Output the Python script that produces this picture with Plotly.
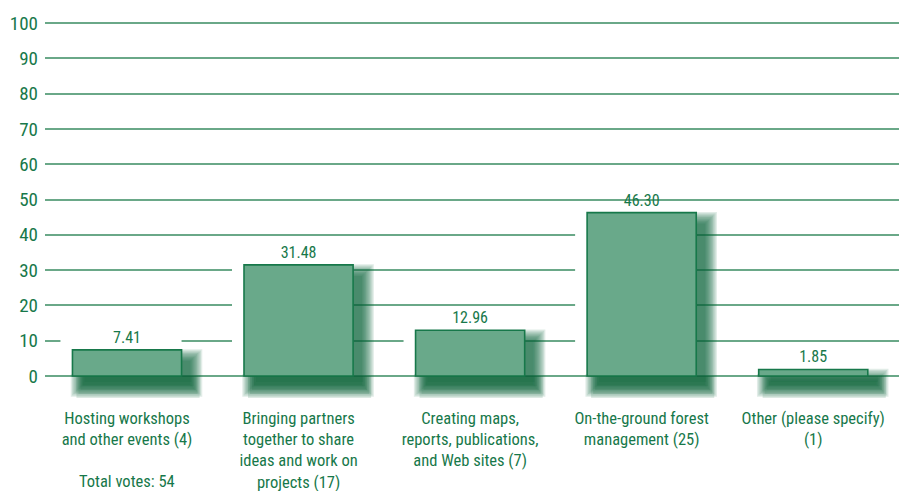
import plotly.graph_objects as go

categories = [
    "Hosting workshops<br>and other events (4)",
    "Bringing partners<br>together to share<br>ideas and work on<br>projects (17)",
    "Creating maps,<br>reports, publications,<br>and Web sites (7)",
    "On-the-ground forest<br>management (25)",
    "Other (please specify)<br>(1)",
]
values = [7.41, 31.48, 12.96, 46.30, 1.85]
value_labels = ["7.41", "31.48", "12.96", "46.30", "1.85"]
y_ticks = [0, 10, 20, 30, 40, 50, 60, 70, 80, 90, 100]
note = "Total votes: 54"

FONT = "Liberation Sans Narrow, Roboto Condensed, DejaVu Sans Condensed, Arial Narrow, sans-serif"
DARK = "#17784a"
FILL = "#69a98a"
GRID = "#6aa888"

# pixel -> data unit conversions for the decorative shadow/halo
PX_X = 1 / 171.5
PX_Y = 1 / 3.53

bw = 0.636
xs = list(range(len(categories)))
fig = go.Figure()

# blurred drop shadow, approximated by stacked translucent bars
for k in range(10):
    g = k * 1.3
    x0 = -bw / 2 + (10 - g) * PX_X
    x1 = bw / 2 + (9 + g) * PX_X
    y0 = -(9 + g) * PX_Y
    fig.add_trace(go.Bar(
        x=xs, y=[v - (11 - g) * PX_Y - y0 for v in values], base=[y0] * len(values),
        offset=x0, width=x1 - x0,
        marker=dict(color="rgba(12,100,54,0.12)", line_width=0),
        hoverinfo="skip",
    ))
# extra ground shadow just below the baseline
for k in range(5):
    g = k * 2.0
    x0 = -bw / 2 + (12 - g) * PX_X
    x1 = bw / 2 + (10 + g) * PX_X
    fig.add_trace(go.Bar(
        x=xs, y=[(6 + 2 * g) * PX_Y] * len(values),
        base=[-(6 + 2 * g) * PX_Y + 0.0 - 0.0 - 0.0] * len(values),
        offset=x0, width=x1 - x0,
        marker=dict(color="rgba(12,100,54,0.14)", line_width=0),
        hoverinfo="skip",
    ))
# white halo that interrupts gridlines on the left/top of each bar
hx0 = -bw / 2 - 12 * PX_X
fig.add_trace(go.Bar(
    x=xs, y=[v + 10 * PX_Y - 0.6 for v in values], base=[0.6] * len(values),
    offset=hx0, width=bw / 2 - hx0,
    marker=dict(color="white", line_width=0),
    hoverinfo="skip",
))

fig.add_trace(go.Bar(
    x=xs, y=values, width=bw,
    marker=dict(color=FILL, line=dict(color=DARK, width=1.6)),
    text=value_labels, textposition="outside", cliponaxis=False,
    textfont=dict(family=FONT, size=16, color=DARK),
    hoverinfo="skip",
))

fig.update_layout(
    width=899, height=491,
    margin=dict(l=45, r=0, t=10, b=91),
    plot_bgcolor="white", paper_bgcolor="white",
    showlegend=False, barmode="overlay",
    font=dict(family=FONT, color=DARK),
    xaxis=dict(
        range=[-0.478, 4.5], automargin=False,
        tickmode="array", tickvals=xs, ticktext=categories,
        showgrid=False, zeroline=False, showline=False, ticks="",
        tickfont=dict(family=FONT, size=16.5, color=DARK),
        ticklabelstandoff=6,
    ),
    yaxis=dict(
        range=[-6.8, 103.7], automargin=False,
        tickmode="array", tickvals=y_ticks, ticktext=[str(t) for t in y_ticks],
        showgrid=True, gridcolor=GRID, gridwidth=2,
        zeroline=False, showline=False, ticks="",
        tickfont=dict(family=FONT, size=19, color=DARK),
        ticklabelstandoff=6,
    ),
    annotations=[dict(
        text=note, x=0, y=0, xref="x", yref="paper", yanchor="top",
        yshift=-70, showarrow=False,
        font=dict(family=FONT, size=16.5, color=DARK),
    )],
)

fig.write_html("out.html")
